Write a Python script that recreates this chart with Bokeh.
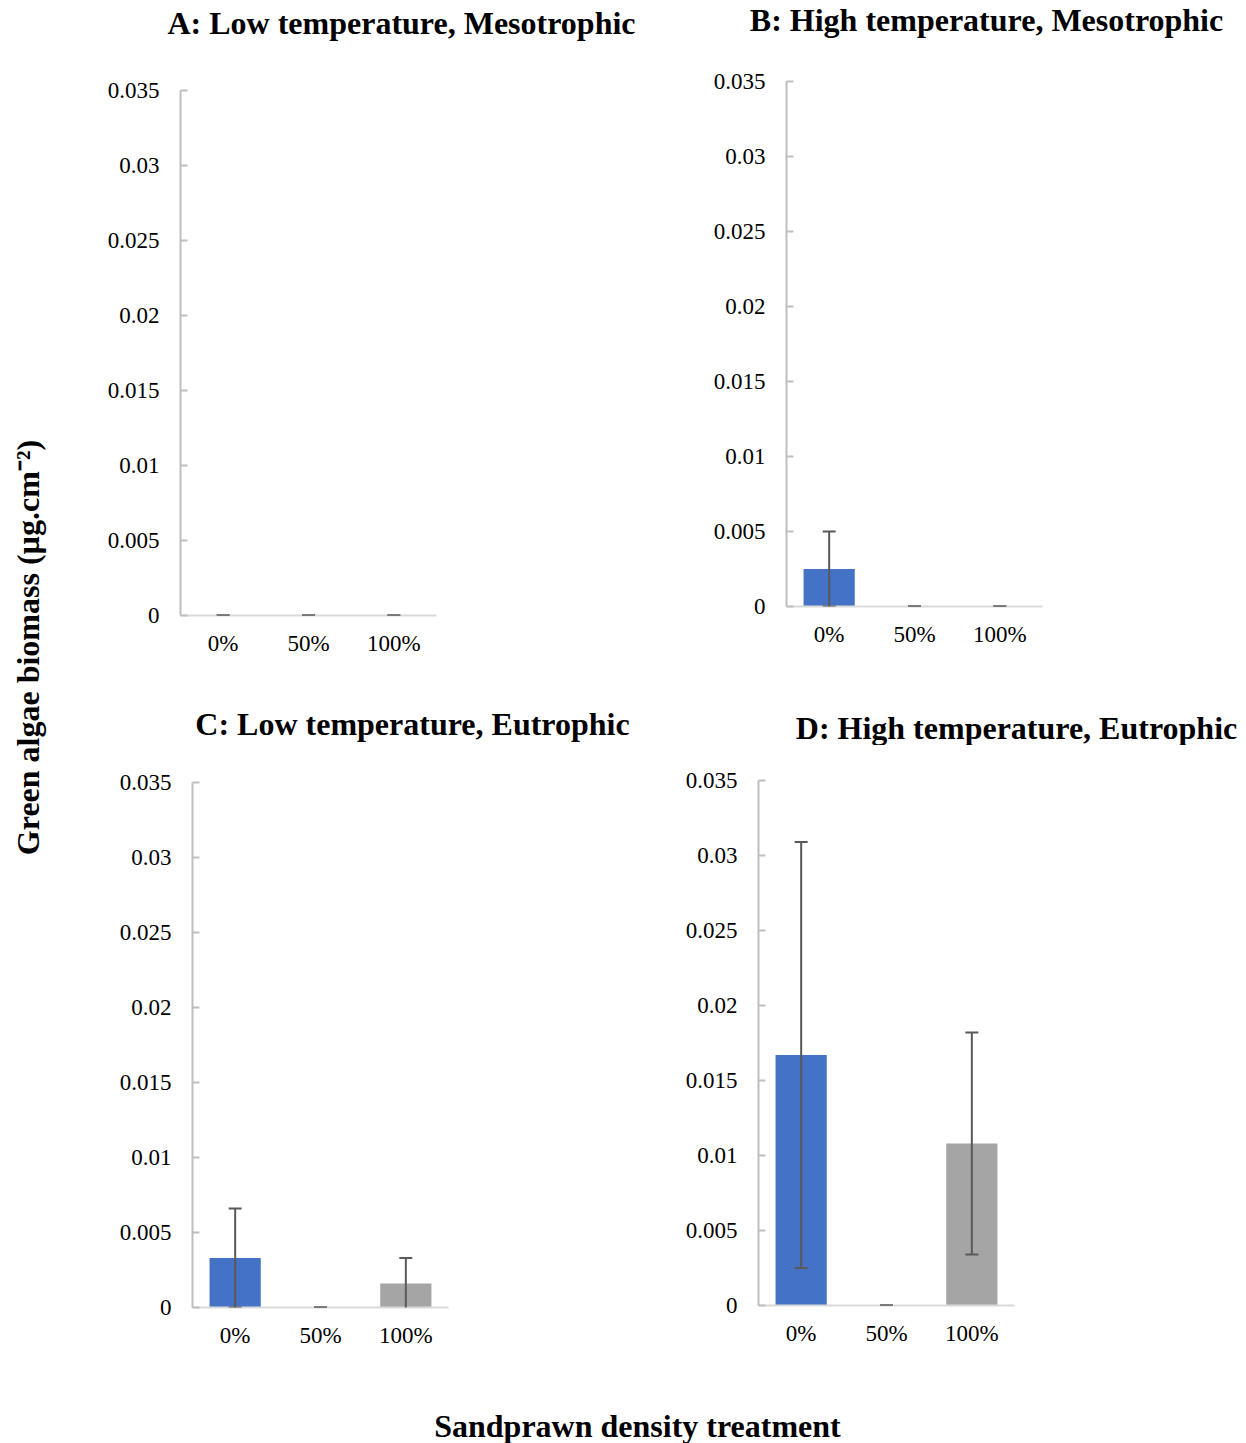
from bokeh.plotting import figure
from bokeh.models import (FactorRange, Range1d, FixedTicker, CustomJSTickFormatter,
                          ColumnDataSource, Whisker, TeeHead, Label)
from bokeh.layouts import row, column
from bokeh.embed import file_html
from bokeh.resources import INLINE
import math

# ---- data -------------------------------------------------------------
treatments = ["0%", "50%", "100%"]
bar_colors = ["#4472C4", "#ED7D31", "#A5A5A5"]

titles = ["A: Low temperature, Mesotrophic",
          "B: High temperature, Mesotrophic",
          "C: Low temperature, Eutrophic",
          "D: High temperature, Eutrophic"]

mean_a = [0.0, 0.0, 0.0]
err_a = [0.0, 0.0, 0.0]
mean_b = [0.0025, 0.0, 0.0]
err_b = [0.0025, 0.0, 0.0]
mean_c = [0.0033, 0.0, 0.0016]
err_c = [0.0033, 0.0, 0.0017]
mean_d = [0.0167, 0.0, 0.0108]
err_d = [0.0142, 0.0, 0.0074]

y_ticks = [0, 0.005, 0.01, 0.015, 0.02, 0.025, 0.03, 0.035]
y_label = "Green algae biomass (\u00b5g.cm\u207b\u00b2)"
x_label = "Sandprawn density treatment"

SERIF = "Liberation Serif"
ERR_COLOR = "#595959"


def panel(means, errs, width, height, left, right, top, bottom):
    p = figure(x_range=FactorRange(factors=treatments), y_range=Range1d(0, 0.035),
               width=width, height=height,
               min_border_left=left, min_border_right=right,
               min_border_top=top, min_border_bottom=bottom,
               toolbar_location=None, output_backend="svg")
    p.outline_line_color = None
    p.grid.visible = False
    p.background_fill_color = "white"

    src = ColumnDataSource(dict(
        cat=treatments, val=means, color=bar_colors,
        upper=[m + e for m, e in zip(means, errs)],
        lower=[m - e for m, e in zip(means, errs)],
    ))
    p.vbar(x="cat", top="val", width=0.6, fill_color="color", line_color=None, source=src)

    head = dict(size=13, line_color=ERR_COLOR, line_width=2)
    p.add_layout(Whisker(source=src, base="cat", upper="upper", lower="lower",
                         dimension="height", line_color=ERR_COLOR, line_width=2,
                         level="overlay",
                         upper_head=TeeHead(**head), lower_head=TeeHead(**head)))

    ya = p.yaxis[0]
    ya.ticker = FixedTicker(ticks=y_ticks)
    ya.formatter = CustomJSTickFormatter(code="return String(+tick.toFixed(3));")
    ya.axis_line_color = "#BFBFBF"
    ya.axis_line_width = 2
    ya.major_tick_line_color = "#BFBFBF"
    ya.major_tick_line_width = 2
    ya.major_tick_in = 7
    ya.major_tick_out = 0
    ya.minor_tick_line_color = None
    ya.major_label_standoff = 21
    ya.major_label_text_font = SERIF
    ya.major_label_text_font_size = "23px"
    ya.major_label_text_color = "black"

    xa = p.xaxis[0]
    xa.axis_line_color = "#D9D9D9"
    xa.axis_line_width = 2
    xa.major_tick_line_color = None
    xa.major_tick_in = 0
    xa.major_tick_out = 0
    xa.minor_tick_line_color = None
    xa.major_label_standoff = 15
    xa.major_label_text_font = SERIF
    xa.major_label_text_font_size = "23px"
    xa.major_label_text_color = "black"
    return p


def strip(w, h):
    # blank canvas whose data units are pixels, measured from the top-left
    s = figure(width=w, height=h, x_range=Range1d(0, w), y_range=Range1d(h, 0),
               x_axis_type=None, y_axis_type=None, min_border=0,
               toolbar_location=None, output_backend="svg")
    s.outline_line_color = None
    s.grid.visible = False
    return s


def text(s, x, y, t, angle=0.0):
    s.add_layout(Label(x=x, y=y, text=t, angle=angle,
                       text_align="center", text_baseline="middle",
                       text_font=SERIF, text_font_style="bold",
                       text_font_size="32px", text_color="black"))


# ---- panels -----------------------------------------------------------
pa = panel(mean_a, err_a, 560, 640, 120, 184, 40, 75)
pb = panel(mean_b, err_b, 626, 640, 166, 204, 31, 84)
pc = panel(mean_c, err_c, 560, 640, 132, 172, 37, 78)
pd = panel(mean_d, err_d, 626, 640, 138, 232, 35, 80)

# ---- titles and shared axis labels -----------------------------------
t1 = strip(1186, 50)
text(t1, 341, 22, titles[0])
text(t1, 926, 19, titles[1])

t2 = strip(1186, 55)
text(t2, 352, 33, titles[2])
text(t2, 956, 37, titles[3])

ylab = strip(60, 1385)
text(ylab, 27, 647, y_label, angle=math.pi / 2)

xlab = strip(1246, 58)
text(xlab, 637, 40, x_label)

# each panel sits in its own column so that its frame keeps its own offsets
grid = column(t1, row(column(pa), column(pb)), t2, row(column(pc), column(pd)))
layout = column(row(ylab, grid), xlab)

open("out.html", "w").write(file_html(layout, INLINE))
